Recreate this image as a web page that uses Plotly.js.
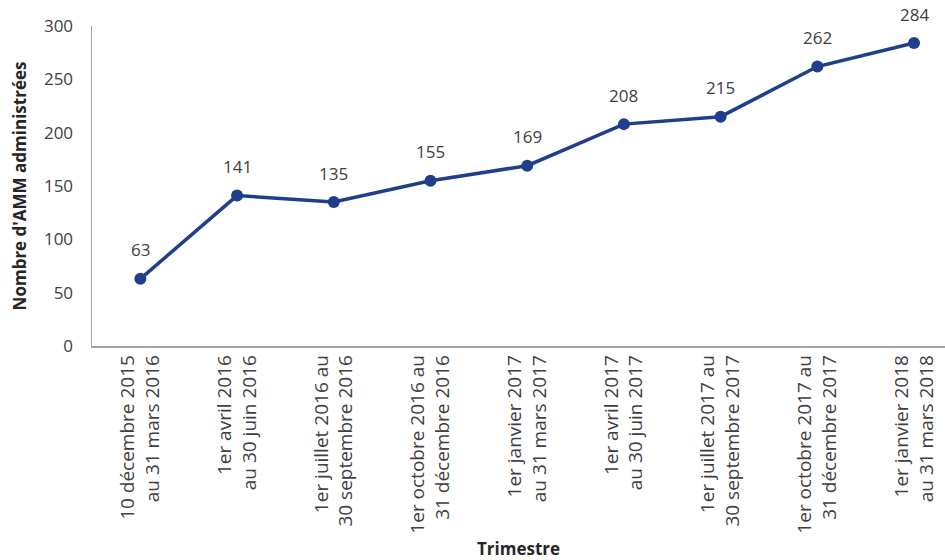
<!DOCTYPE html>
<html>
<head>
<meta charset="utf-8">
<script src="https://cdn.plot.ly/plotly-3.0.1.min.js"></script>
<style>html,body{margin:0;padding:0;background:#fff;overflow:hidden}#chart{width:945px;height:560px}</style>
</head>
<body>
<div id="chart"></div>
<script>
const categories = [
  "10 décembre 2015<br>au 31 mars 2016",
  "1er avril 2016<br>au 30 juin 2016",
  "1er juillet 2016 au<br>30 septembre 2016",
  "1er octobre 2016 au<br>31 décembre 2016",
  "1er janvier 2017<br>au 31 mars 2017",
  "1er avril 2017<br>au 30 juin 2017",
  "1er juillet 2017 au<br>30 septembre 2017",
  "1er octobre 2017 au<br>31 décembre 2017",
  "1er janvier 2018<br>au 31 mars 2018"
];
const values = [63, 141, 135, 155, 169, 208, 215, 262, 284];
const yTicks = [0, 50, 100, 150, 200, 250, 300];

const FONT = "Open Sans, Noto Sans, sans-serif";
const idx = categories.map((c, i) => i);

const trace = {
  type: "scatter",
  mode: "lines+markers",
  x: idx,
  y: values,
  line: {color: "#1f3f8c", width: 3.5},
  marker: {color: "#1f3f8c", size: 12},
  hoverinfo: "y"
};

const annotations = values.map((v, i) => ({
  x: i, y: v, xref: "x", yref: "y",
  text: String(v), showarrow: false,
  yshift: 29,
  font: {family: FONT, size: 17, color: "#404040"}
}));

const layout = {
  width: 945, height: 560,
  margin: {l: 92, r: 0, t: 26, b: 214},
  paper_bgcolor: "#fff", plot_bgcolor: "#fff",
  showlegend: false,
  font: {family: FONT, color: "#404040"},
  xaxis: {
    range: [-0.5, 8.32],
    tickmode: "array",
    tickvals: idx,
    ticktext: categories,
    tickangle: -90,
    tickfont: {family: FONT, size: 19, color: "#404040"},
    showgrid: false, zeroline: false,
    showline: true, linecolor: "#a6a6a6", linewidth: 1.5,
    ticks: "", fixedrange: true,
    title: {text: "<b>Trimestre</b>", font: {family: FONT, size: 17, color: "#262626"}, standoff: 11}
  },
  yaxis: {
    range: [0, 300],
    tickmode: "array",
    tickvals: yTicks,
    ticktext: yTicks.map(String),
    tickfont: {family: FONT, size: 17, color: "#404040"},
    showgrid: false, zeroline: false,
    showline: true, linecolor: "#a6a6a6", linewidth: 1.5,
    ticks: "", ticklabelstandoff: 14,
    title: {text: "<b>Nombre d'AMM administrées</b>", font: {family: FONT, size: 17, color: "#262626"}, standoff: 13}
  },
  annotations: annotations
};

Plotly.newPlot("chart", [trace], layout, {displayModeBar: false, staticPlot: true});
</script>
</body>
</html>
